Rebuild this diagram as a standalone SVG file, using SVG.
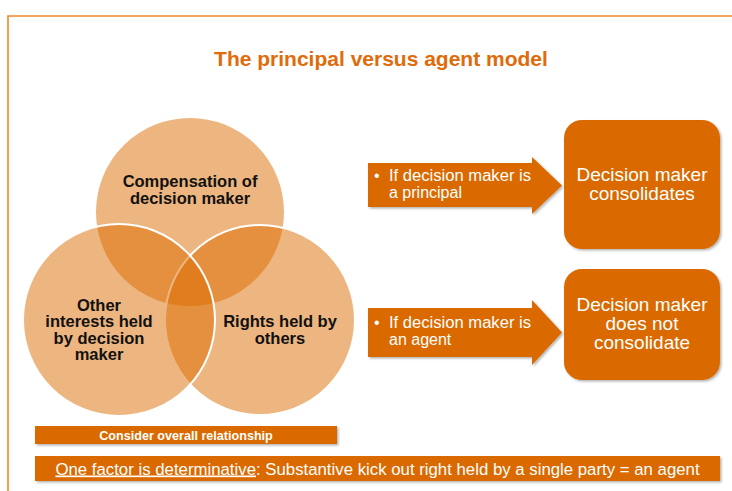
<svg xmlns="http://www.w3.org/2000/svg" width="732" height="491" viewBox="0 0 732 491">
  <defs>
    <filter id="shadow" x="-10%" y="-10%" width="130%" height="140%">
      <feDropShadow dx="1.5" dy="1.5" stdDeviation="1.2" flood-color="#000" flood-opacity="0.3"/>
    </filter>
    <style>
      .frame { stroke: #F0862A; stroke-width: 1.6; fill: none; }
      .title { font-family: "Liberation Sans", Arial, sans-serif; font-weight: bold; font-size: 21px; fill: #E06B0A; text-anchor: middle; }
      .venn { fill: #DC6C00; fill-opacity: 0.5; stroke: #FFFFFF; stroke-width: 2; }
      .vlabel { font-family: "Liberation Sans", Arial, sans-serif; font-weight: bold; font-size: 16.5px; fill: #111; text-anchor: middle; }
      .solid { fill: #DA6A00; filter: url(#shadow); }
      .atext { font-family: "Liberation Sans", Arial, sans-serif; font-size: 16px; fill: #FFFFFF; }
      .btext { font-family: "Liberation Sans", Arial, sans-serif; font-size: 19px; fill: #FFFFFF; text-anchor: middle; }
      .note { font-family: "Liberation Sans", Arial, sans-serif; font-weight: bold; font-size: 12.6px; fill: #FFFFFF; text-anchor: middle; }
      .rule { font-family: "Liberation Sans", Arial, sans-serif; font-size: 16.8px; fill: #FFFFFF; text-anchor: middle; }
    </style>
  </defs>

  <rect width="732" height="491" fill="#FFFFFF"/>

  <!-- page frame: top and left edges -->
  <path class="frame" d="M8 491 V16 H732"/>

  <text id="title" class="title" x="381" y="66">The principal versus agent model</text>

  <!-- three overlapping factors -->
  <g id="venn">
    <g id="circle-compensation">
      <circle class="venn" cx="190" cy="212" r="95"/>
    </g>
    <g id="circle-rights">
      <circle class="venn" cx="260" cy="320" r="95"/>
    </g>
    <g id="circle-interests">
      <circle class="venn" cx="119" cy="320" r="96"/>
    </g>
    <text class="vlabel" x="190" y="187">Compensation of</text>
    <text class="vlabel" x="190" y="204">decision maker</text>
    <text class="vlabel" x="99" y="310.5">Other</text>
    <text class="vlabel" x="99" y="327">interests held</text>
    <text class="vlabel" x="99" y="343.5">by decision</text>
    <text class="vlabel" x="99" y="360">maker</text>
    <text class="vlabel" x="280" y="327">Rights held by</text>
    <text class="vlabel" x="280" y="343.5">others</text>
  </g>

  <!-- arrows leading to the outcomes -->
  <g id="connectors">
    <g id="arrow-principal">
      <polygon class="solid" points="368,163 532,163 532,157 562,185.5 532,214 532,207 368,207"/>
      <text class="atext" x="374" y="180.5">•</text>
      <text class="atext" x="389" y="180.5" textLength="142" lengthAdjust="spacingAndGlyphs">If decision maker is</text>
      <text class="atext" x="389" y="198">a principal</text>
    </g>
    <g id="arrow-agent">
      <polygon class="solid" points="368,308 532,308 532,300 562,332.5 532,365 532,357 368,357"/>
      <text class="atext" x="374" y="327.5">•</text>
      <text class="atext" x="389" y="327.5" textLength="142" lengthAdjust="spacingAndGlyphs">If decision maker is</text>
      <text class="atext" x="389" y="345">an agent</text>
    </g>
  </g>

  <g id="box-consolidates">
    <rect class="solid" x="564" y="120" width="156" height="129" rx="18"/>
    <text class="btext" x="642" y="181">Decision maker</text>
    <text class="btext" x="642" y="200">consolidates</text>
  </g>

  <g id="box-not-consolidate">
    <rect class="solid" x="564" y="269" width="156" height="111" rx="18"/>
    <text class="btext" x="642" y="311">Decision maker</text>
    <text class="btext" x="642" y="330">does not</text>
    <text class="btext" x="642" y="349">consolidate</text>
  </g>

  <g id="bar-overall">
    <rect class="solid" x="35" y="426" width="302" height="18"/>
    <text class="note" x="186" y="439.5">Consider overall relationship</text>
  </g>

  <g id="bar-determinative">
    <rect class="solid" x="35" y="456" width="685" height="25"/>
    <text class="rule" x="377.5" y="474.5"><tspan text-decoration="underline">One factor is determinative</tspan>: Substantive kick out right held by a single party = an agent</text>
  </g>
</svg>
